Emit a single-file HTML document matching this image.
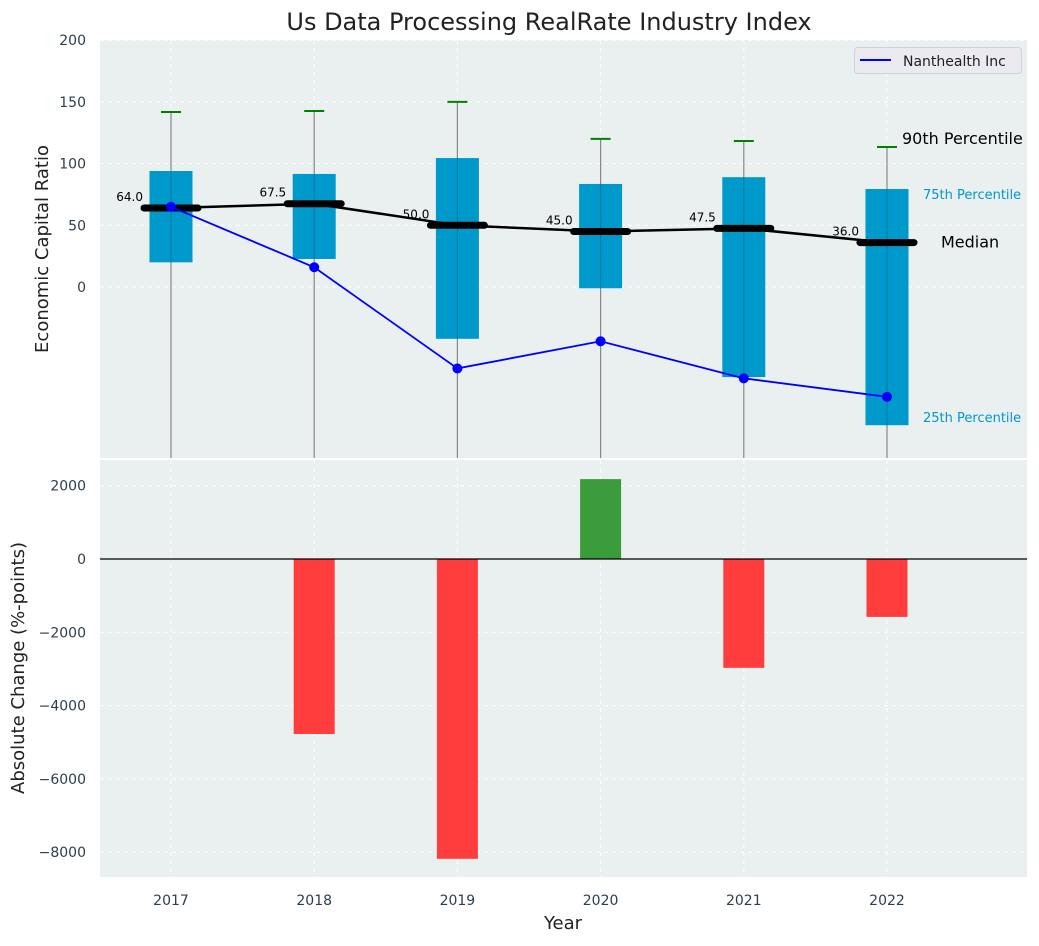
<!DOCTYPE html>
<html><head><meta charset="utf-8">
<style>
body{margin:0;background:#fff;font-family:"DejaVu Sans","Liberation Sans",sans-serif;}
svg text{font-family:"DejaVu Sans","Liberation Sans",sans-serif;}
</style></head>
<body>
<svg id="chart" width="1039" height="942" xmlns="http://www.w3.org/2000/svg">
<rect x="0" y="0" width="1039" height="942" fill="#fff"/>
<g id="topPanel"></g>
<g id="botPanel"></g>
</svg>
<script>
const years = ["2017","2018","2019","2020","2021","2022"];
const p25 = [20, 22.7, -42, -1, -73, -112];
const p75 = [94, 91.6, 104.5, 83.5, 89, 79.4];
const p90 = [141.8, 142.6, 150, 120, 118.3, 113.5];
const medians = [64, 67.5, 50, 45, 47.5, 36];
const company = [65, 16, -66, -44, -74, -89];
const changes = [0, -4775, -8180, 2180, -2970, -1580];
const topTicks = [0, 50, 100, 150, 200];
const botTicks = [2000, 0, -2000, -4000, -6000, -8000];

const NS = "http://www.w3.org/2000/svg";
function mk(parent, tag, attrs, text){
  const e = document.createElementNS(NS, tag);
  for (const k in attrs) e.setAttribute(k, attrs[k]);
  if (text !== undefined) e.textContent = text;
  parent.appendChild(e); return e;
}
const L = 100, R = 1027;
const xs = i => 171 + 143.2 * i;
const T0 = 40, T1 = 458;
const yT = v => 287 - v * 1.234;
const B0 = 460, B1 = 877;
const yB = v => 559 - v * 0.03665;

const svgEl = document.getElementById('chart');
const topG = document.getElementById('topPanel');
const botG = document.getElementById('botPanel');

let t = mk(svgEl, 'text', {x: 549, y: 30, 'text-anchor': 'middle', 'font-size': 24, fill: '#222'}, 'Us Data Processing RealRate Industry Index');



let bg = mk(topG, 'rect', {x: L, y: T0, width: R - L, height: T1 - T0, fill: '#eaeff0'});


const clipT = mk(svgEl, 'clipPath', {id: 'ct'});
mk(clipT, 'rect', {x: L, y: T0, width: R - L, height: T1 - T0});
const clipB = mk(svgEl, 'clipPath', {id: 'cb'});
mk(clipB, 'rect', {x: L, y: B0, width: R - L, height: B1 - B0});

let bb = mk(botG, 'rect', {x: L, y: B0, width: R - L, height: B1 - B0, fill: '#eaeff0'});



topTicks.forEach(v => {
  const y = yT(v);
  let g = mk(topG, 'line', {x1: L, x2: R, y1: y, y2: y, stroke: '#fff', 'stroke-dasharray': '4,4', 'stroke-width': 1});
  
  
  let lb = mk(topG, 'text', {x: 86, y: y + 5, 'text-anchor': 'end', 'font-size': 14, fill: '#2d3e50'}, String(v));
  
  
});
years.forEach((yr, i) => {
  [[topG, T0, T1], [botG, B0, B1]].forEach(([p, a, b]) => {
    let g = mk(p, 'line', {x1: xs(i), x2: xs(i), y1: a, y2: b, stroke: '#fff', 'stroke-dasharray': '4,4', 'stroke-width': 1});
    
    
  });
});
const tg = mk(topG, 'g', {'clip-path': 'url(#ct)'});
years.forEach((yr, i) => {
  const x = xs(i);
  let w = mk(tg, 'line', {x1: x, x2: x, y1: yT(p90[i]), y2: T1 + 5, stroke: '#888', 'stroke-width': 1.2});
  
  
  let bx = mk(tg, 'rect', {x: x - 21.5, y: yT(p75[i]), width: 43, height: yT(p25[i]) - yT(p75[i]), fill: '#0099cc'});
  
  
  let w2 = mk(tg, 'line', {x1: x, x2: x, y1: yT(p75[i]), y2: yT(p25[i]), stroke: '#0a5f7a', 'stroke-width': 1, opacity: 0.6});
  
  
  let cap = mk(tg, 'line', {x1: x - 10, x2: x + 10, y1: yT(p90[i]), y2: yT(p90[i]), stroke: 'green', 'stroke-width': 2});
  
  
});
let mp = mk(tg, 'polyline', {points: medians.map((v, i) => xs(i) + ',' + yT(v)).join(' '), fill: 'none', stroke: '#000', 'stroke-width': 2.5});


years.forEach((yr, i) => {
  const x = xs(i), y = yT(medians[i]);
  let m = mk(tg, 'line', {x1: x - 27, x2: x + 27, y1: y, y2: y, stroke: '#000', 'stroke-width': 7, 'stroke-linecap': 'round'});
  
  
  let ml = mk(tg, 'text', {x: x - 28, y: y - 7, 'text-anchor': 'end', 'font-size': 12, fill: '#000'}, medians[i].toFixed(1));
  
  
});
let cl = mk(tg, 'polyline', {points: company.map((v, i) => xs(i) + ',' + yT(v)).join(' '), fill: 'none', stroke: '#0000ff', 'stroke-width': 1.8});


company.forEach((v, i) => {
  let c = mk(tg, 'circle', {cx: xs(i), cy: yT(v), r: 5, fill: '#0000ff'});
  
  
});
const last = 5;
let a1 = mk(topG, 'text', {x: 902, y: yT(p90[last]) - 3, 'font-size': 16, fill: '#000'}, '90th Percentile');
 
let a2 = mk(topG, 'text', {x: 923, y: yT(p75[last]) + 10, 'font-size': 13, fill: '#0099cc'}, '75th Percentile');
 
let a3 = mk(topG, 'text', {x: 941, y: yT(medians[last]) + 5, 'font-size': 16, fill: '#000'}, 'Median');
 
let a4 = mk(topG, 'text', {x: 923, y: yT(p25[last]) - 3, 'font-size': 13, fill: '#0099cc'}, '25th Percentile');
 
let lg = mk(topG, 'g', {});


mk(lg, 'rect', {x: 854.5, y: 47.5, width: 167, height: 26, rx: 3, fill: '#eaeaf0', stroke: '#d0d0d8'});
let ll = mk(lg, 'line', {x1: 860, x2: 891, y1: 60, y2: 60, stroke: '#0000ff', 'stroke-width': 2});
 
let lt = mk(lg, 'text', {x: 903, y: 66, 'font-size': 14, fill: '#222'}, 'Nanthealth Inc');
 
let yl = mk(topG, 'text', {x: 0, y: 0, 'font-size': 18, fill: '#222', 'text-anchor': 'middle', transform: 'translate(47,249) rotate(-90)'}, 'Economic Capital Ratio');
 
yl.setAttribute('transform', 'translate(48,249) rotate(-90)');

botTicks.forEach(v => {
  const y = yB(v);
  let g = mk(botG, 'line', {x1: L, x2: R, y1: y, y2: y, stroke: '#fff', 'stroke-dasharray': '4,4', 'stroke-width': 1});
  
  
  let lb = mk(botG, 'text', {x: 86, y: y + 5, 'text-anchor': 'end', 'font-size': 14, fill: '#2d3e50'}, v < 0 ? '\u2212' + Math.abs(v) : String(v));
  
  
});
const bg2 = mk(botG, 'g', {'clip-path': 'url(#cb)'});
changes.forEach((v, i) => {
  const y0 = yB(0), y1 = yB(v);
  let r = mk(bg2, 'rect', {x: xs(i) - 20.5, y: Math.min(y0, y1), width: 41, height: Math.abs(y1 - y0), fill: v >= 0 ? '#3a9c3a' : '#ff3d3d'});
  
  
});
let zl = mk(botG, 'line', {x1: L, x2: R, y1: yB(0), y2: yB(0), stroke: '#000', 'stroke-width': 1.2});
 
years.forEach((yr, i) => {
  let xl = mk(botG, 'text', {x: xs(i), y: 905, 'text-anchor': 'middle', 'font-size': 14, fill: '#2d3e50'}, yr);
  
  
});
let xt = mk(botG, 'text', {x: 563, y: 929, 'text-anchor': 'middle', 'font-size': 18, fill: '#222'}, 'Year');
 
let yt2 = mk(botG, 'text', {x: 0, y: 0, 'font-size': 18, fill: '#222', 'text-anchor': 'middle', transform: 'translate(24,670) rotate(-90)'}, 'Absolute Change (%-points)');
 
yt2.setAttribute('transform', 'translate(24,668) rotate(-90)');
</script>
</body></html>
